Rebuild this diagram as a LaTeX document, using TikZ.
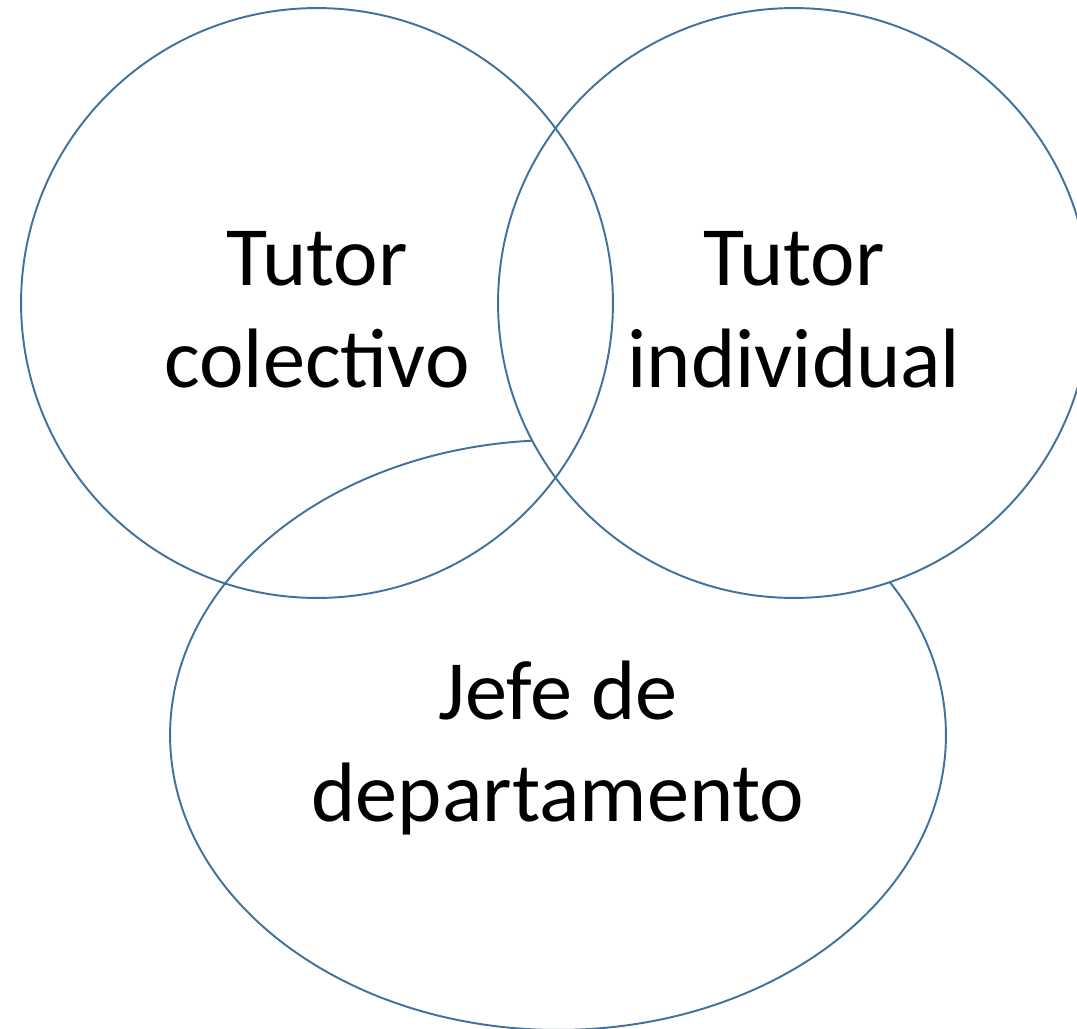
\documentclass[tikz,border=0pt]{standalone}
\usepackage{fontspec}
\setmainfont{Carlito}
\usetikzlibrary{shapes}
\definecolor{setblue}{RGB}{65,113,156}
\tikzset{
set/.style={
	  draw=setblue, line width=1.1pt, ellipse, inner sep=0pt,
	    minimum width=11.84cm, minimum height=11.8cm},
setname/.style={
	  align=center, inner sep=0pt, font=\fontsize{48}{58}\selectfont}
}

\begin{document}
\begin{tikzpicture}[x=0.02cm, y=-0.02cm]
	\clip (0,0) rectangle (1077,1028);
	\node[set, minimum width=15.52cm] (jefe) at (558,735) {};
	\node[set, fill=white] (indiv) at (794,303) {};
	\node[set] (coll) at (317,303) {};
	\node[setname] (coll-name) at (317,310) {Tutor\\colectivo};
	\node[setname] (indiv-name) at (794,310) {Tutor\\individual};
	\node[setname] (jefe-name) at (558,748) {Jefe de\\departamento};
\end{tikzpicture}
\end{document}
